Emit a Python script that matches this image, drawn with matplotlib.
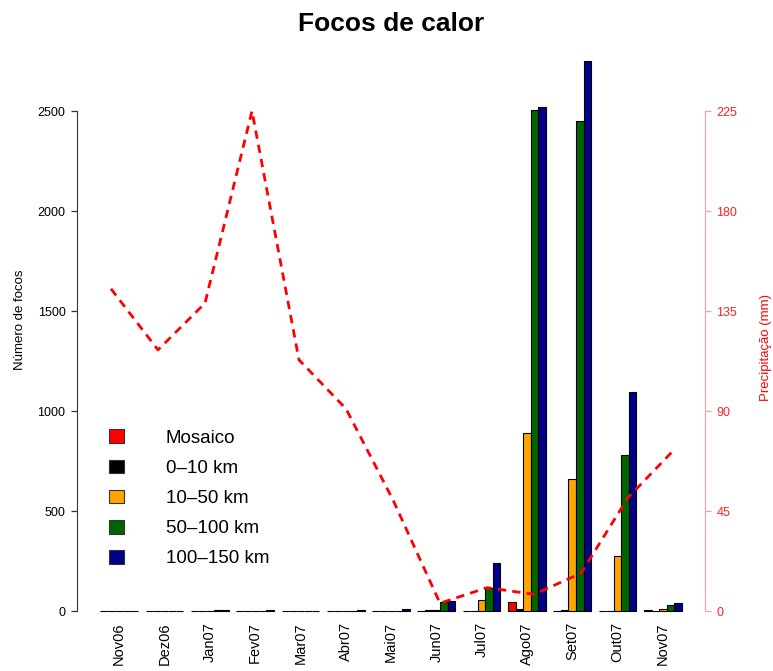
import matplotlib
matplotlib.use('Agg')

from matplotlib import pyplot as plt
from matplotlib.patches import Patch
import numpy as np

plt.rcParams['font.family'] = ['Liberation Sans', 'DejaVu Sans']

months = ["Nov06", "Dez06", "Jan07", "Fev07", "Mar07", "Abr07", "Mai07",
          "Jun07", "Jul07", "Ago07", "Set07", "Out07", "Nov07"]
series_names = ["Mosaico", "0\u201310 km", "10\u201350 km", "50\u2013100 km", "100\u2013150 km"]
series_colors = ["#ff0000", "#000000", "#ffa500", "#006400", "#00008b"]

mosaico = [0, 0, 0, 0, 0, 0, 0, 0, 0, 47, 0, 0, 5]
km_0_10 = [1, 1, 2, 1, 0, 1, 1, 3, 2, 10, 3, 2, 2]
km_10_50 = [0, 1, 1, 1, 0, 1, 1, 5, 55, 892, 658, 275, 10]
km_50_100 = [1, 2, 3, 2, 1, 2, 2, 45, 117, 2505, 2450, 778, 28]
km_100_150 = [1, 2, 4, 3, 1, 4, 8, 50, 240, 2520, 2750, 1095, 38]

precip = [145, 117.5, 138.5, 225, 113, 91, 50, 3.5, 10.5, 7.5, 17, 51, 73]

W, H = 773, 671
fig = plt.figure(figsize=(W / 100, H / 100), dpi=100)
pos = [77 / W, 1 - 611 / H, 628 / W, 572 / H]
ax = fig.add_axes(pos)

series = [mosaico, km_0_10, km_10_50, km_50_100, km_100_150]
n = len(months)
group_start = 1 + 6 * np.arange(n)
for j, (vals, col) in enumerate(zip(series, series_colors)):
    ax.bar(group_start + j, vals, width=1, align='edge', color=col,
           edgecolor='black', linewidth=0.8, clip_on=False)

ax.set_xlim(-2.08, 81.08)
ax.set_ylim(0, 2860)
for s in ['top', 'right', 'bottom']:
    ax.spines[s].set_visible(False)
ax.spines['left'].set_bounds(0, 2500)
ax.spines['left'].set_color('#333333')
ax.set_yticks([0, 500, 1000, 1500, 2000, 2500])
ax.tick_params(axis='y', direction='out', length=4.3, width=0.9, pad=4,
               labelsize=9, color='#333333')
ax.set_xticks(group_start + 2.5)
ax.set_xticklabels(months, rotation=90, fontsize=10.5)
ax.tick_params(axis='x', length=0, pad=8)
ax.set_ylabel("Número de focos", fontsize=9.5, va='center')
ax.yaxis.set_label_coords(-0.09, 0.509)

# precipitation line on its own scale
ax2 = fig.add_axes(pos)
ax2.patch.set_visible(False)
ax2.plot(np.arange(n), precip, color='red', linewidth=2, dashes=(3, 2.2))
ax2.set_xlim(-0.723, 12.638)
ax2.set_ylim(0, 2860 * 0.09)
ax2.set_xticks([])
for s in ['top', 'left', 'bottom']:
    ax2.spines[s].set_visible(False)
ax2.yaxis.tick_right()
ax2.yaxis.set_label_position('right')
ax2.spines['right'].set_bounds(0, 225)
ax2.spines['right'].set_color('#ff9c9c')
ax2.set_yticks([0, 45, 90, 135, 180, 225])
ax2.tick_params(axis='y', direction='out', length=4.3, width=0.9, pad=4,
                labelsize=9, color='#ff9c9c', labelcolor='#ff2020')
ax2.set_ylabel("Precipitação (mm)", fontsize=9.5, color='red', va='center')
ax2.yaxis.set_label_coords(1.097, 0.46)

handles = [Patch(facecolor=c, edgecolor='#333333', linewidth=0.8) for c in series_colors]
leg = fig.legend(handles, series_names, loc='upper left',
                 bbox_to_anchor=(100 / W, 1 - 420 / H), frameon=False,
                 fontsize=13.5, handlelength=0.8, handleheight=0.75,
                 handletextpad=2.2, labelspacing=0.68, borderpad=0)

fig.text((77 + 705) / 2 / W, 1 - 24 / H, "Focos de calor", ha='center', va='center',
         fontsize=19, fontweight='bold')

fig.savefig("out.png", dpi=100)
